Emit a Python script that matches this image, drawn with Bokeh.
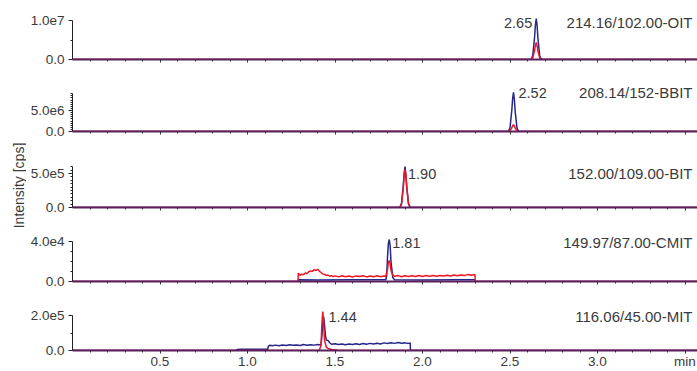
import math
from bokeh.plotting import figure
from bokeh.models import Range1d, FixedTicker, ColumnDataSource
from bokeh.layouts import column, row
from bokeh.embed import file_html
from bokeh.resources import INLINE
from bokeh.core.properties import value

# ---------------- data ----------------
compounds = ["214.16/102.00-OIT", "208.14/152-BBIT", "152.00/109.00-BIT",
             "149.97/87.00-CMIT", "116.06/45.00-MIT"]
retention = [2.65, 2.52, 1.90, 1.81, 1.44]
y_title = "Intensity [cps]"
y_tick_vals = [1.0e7, 5.0e6, 5.0e5, 4.0e4, 2.0e5]
y_tick_labels = ["1.0e7", "5.0e6", "5.0e5", "4.0e4", "2.0e5"]
y_axis_tops = [1.0e7, 9.0e6, 6.0e5, 4.0e4, 2.0e5]
y_minor = [
    [5.0e6],
    [5e5, 1e6, 1.5e6, 2e6, 2.5e6, 3e6, 3.5e6, 4e6, 4.5e6, 5.5e6, 6e6, 6.5e6, 7e6, 7.5e6, 8e6, 8.5e6, 9e6],
    [5e4, 1e5, 1.5e5, 2e5, 2.5e5, 3e5, 3.5e5, 4e5, 4.5e5, 5.5e5, 6e5],
    [1e4, 2e4, 3e4],
    [1e5],
]
x_tick_vals = [0.5, 1.0, 1.5, 2.0, 2.5, 3.0, 3.5]
x_tick_labels = ["0.5", "1.0", "1.5", "2.0", "2.5", "3.0", "min"]
x_minor = [0.1, 0.2, 0.3, 0.4, 0.6, 0.7, 0.8, 0.9, 1.1, 1.2, 1.3, 1.4, 1.6, 1.7, 1.8, 1.9,
           2.1, 2.2, 2.3, 2.4, 2.6, 2.7, 2.8, 2.9, 3.1, 3.2, 3.3, 3.4]

# OIT
oit_t = [0.0, 2.62, 2.63, 2.64, 2.645, 2.65, 2.655, 2.66, 2.67, 2.68, 3.6]
oit_blue = [0, 0, 1.0e6, 5.5e6, 8.8e6, 1.05e7, 8.6e6, 5.2e6, 9.0e5, 0, 0]
oit_red = [0, 0, 4.0e5, 2.2e6, 3.6e6, 4.4e6, 3.5e6, 2.1e6, 3.5e5, 0, 0]
# BBIT
bbit_t = [0.0, 2.49, 2.50, 2.51, 2.515, 2.52, 2.525, 2.53, 2.54, 2.55, 3.6]
bbit_blue = [0, 0, 9.0e5, 4.9e6, 7.8e6, 9.3e6, 7.6e6, 4.6e6, 8.0e5, 0, 0]
bbit_red = [0, 0, 1.5e5, 8.5e5, 1.35e6, 1.6e6, 1.3e6, 8.0e5, 1.4e5, 0, 0]
# BIT
bit_t = [0.0, 1.87, 1.88, 1.89, 1.895, 1.90, 1.905, 1.91, 1.92, 1.93, 3.6]
bit_blue = [0, 0, 6.0e4, 3.2e5, 5.0e5, 6.0e5, 4.9e5, 3.0e5, 5.0e4, 0, 0]
bit_red = [0, 0, 4.0e4, 2.8e5, 4.6e5, 5.6e5, 4.7e5, 3.0e5, 6.0e4, 0, 0]
# CMIT
cmit_blue_t = [0.0, 1.289, 1.29, 1.40, 1.60, 1.79, 1.795, 1.80, 1.805, 1.81, 1.815,
               1.82, 1.83, 1.84, 2.00, 2.20, 2.30, 2.301, 3.6]
cmit_blue = [0, 0, 1.8e3, 1.6e3, 1.8e3, 1.7e3, 5.0e3, 2.4e4, 3.8e4, 4.2e4, 3.6e4,
             2.0e4, 4.0e3, 1.8e3, 1.6e3, 1.8e3, 1.7e3, 0, 0]
cmit_red_t = [0.0, 1.289, 1.29, 1.30, 1.31, 1.32, 1.33, 1.34, 1.35, 1.36, 1.37, 1.38,
              1.39, 1.40, 1.41, 1.42, 1.43, 1.44, 1.45, 1.46, 1.47, 1.48, 1.49, 1.50,
              1.52, 1.54, 1.56, 1.58, 1.60, 1.62, 1.64, 1.66, 1.68, 1.70, 1.72, 1.74,
              1.76, 1.78, 1.79, 1.80, 1.805, 1.81, 1.815, 1.82, 1.83, 1.84, 1.86, 1.88,
              1.90, 1.92, 1.94, 1.96, 1.98, 2.00, 2.02, 2.04, 2.06, 2.08, 2.10, 2.12,
              2.14, 2.16, 2.18, 2.20, 2.22, 2.24, 2.26, 2.28, 2.30, 2.301, 3.6]
cmit_red = [0, 0, 8.3e3, 6.2e3, 7.4e3, 6.8e3, 8.6e3, 8.0e3, 9.8e3, 10.6e3, 9.9e3, 11.8e3,
            11.0e3, 12.2e3, 10.4e3, 9.0e3, 7.6e3, 7.0e3, 6.1e3, 6.4e3, 5.3e3, 5.9e3, 4.9e3, 5.6e3,
            4.6e3, 5.7e3, 4.8e3, 5.5e3, 4.5e3, 5.6e3, 4.9e3, 5.8e3, 4.6e3, 5.4e3, 4.8e3, 5.7e3,
            4.7e3, 5.5e3, 5.0e3, 1.2e4, 1.9e4, 2.1e4, 1.8e4, 1.1e4, 6.5e3, 5.2e3, 5.9e3, 4.8e3,
            5.7e3, 4.9e3, 5.8e3, 5.0e3, 6.0e3, 5.1e3, 5.9e3, 5.2e3, 6.1e3, 5.3e3, 6.0e3, 5.4e3,
            6.3e3, 5.5e3, 6.4e3, 5.8e3, 6.6e3, 5.9e3, 7.1e3, 6.2e3, 6.9e3, 0, 0]
# MIT
mit_blue_t = [0.0, 0.939, 0.94, 0.96, 0.98, 1.00, 1.02, 1.04, 1.06, 1.08, 1.10, 1.115,
              1.12, 1.13, 1.14, 1.16, 1.18, 1.20, 1.22, 1.24, 1.26, 1.28, 1.30, 1.32,
              1.34, 1.36, 1.38, 1.40, 1.42, 1.425, 1.43, 1.435, 1.44, 1.445, 1.45, 1.46,
              1.47, 1.48, 1.50, 1.52, 1.54, 1.56, 1.58, 1.60, 1.62, 1.64, 1.66, 1.68,
              1.70, 1.72, 1.74, 1.76, 1.78, 1.80, 1.82, 1.84, 1.86, 1.88, 1.90, 1.92,
              1.93, 1.931, 3.6]
mit_blue = [0, 0, 6.0e3, 7.0e3, 6.5e3, 7.5e3, 6.8e3, 7.2e3, 6.6e3, 7.4e3, 7.0e3, 7.2e3,
            2.6e4, 3.0e4, 2.7e4, 3.1e4, 2.8e4, 3.2e4, 2.9e4, 3.3e4, 3.0e4, 3.2e4, 2.9e4, 3.4e4,
            3.0e4, 3.3e4, 3.1e4, 3.4e4, 3.2e4, 8.0e4, 1.6e5, 1.95e5, 1.5e5, 9.0e4, 6.0e4, 5.8e4,
            4.5e4, 3.6e4, 3.9e4, 3.4e4, 3.8e4, 3.3e4, 3.7e4, 3.4e4, 3.9e4, 3.5e4, 4.0e4, 3.6e4,
            4.1e4, 3.7e4, 4.2e4, 3.8e4, 4.4e4, 4.0e4, 4.5e4, 4.1e4, 4.6e4, 4.2e4, 4.4e4, 4.1e4,
            4.3e4, 0, 0]
mit_red_t = [0.0, 1.41, 1.42, 1.425, 1.43, 1.435, 1.44, 1.45, 1.46, 1.48, 1.52, 1.56, 3.6]
mit_red = [0, 0, 3.0e4, 1.5e5, 2.25e5, 1.6e5, 6.0e4, 2.0e4, 1.2e4, 6.0e3, 2.0e3, 0, 0]

traces = [
    (oit_t, oit_blue, oit_t, oit_red),
    (bbit_t, bbit_blue, bbit_t, bbit_red),
    (bit_t, bit_blue, bit_t, bit_red),
    (cmit_blue_t, cmit_blue, cmit_red_t, cmit_red),
    (mit_blue_t, mit_blue, mit_red_t, mit_red),
]

# ---------------- layout (page pixel positions) ----------------
# fig_top, fig_bottom, frame_top, baseline, major tick pixel, label pixel
layout = [
    (0, 68, 13, 59, 20, 22),
    (68, 143, 84, 131, 110, 92),
    (143, 219, 163, 207, 173, 173),
    (219, 293, 233, 281, 241, 242),
    (293, 371, 308, 354, 316, 317),
]
peak_align = ["right", "left", "left", "left", "left"]
peak_offset = [-4, 5, 3, 3, 4]

W = 697
H = 371
LABEL_W = 26
LEFT = 72
FONT = "Liberation Sans"
TXT = "#3a3a3a"
BLUE = "#26258a"
RED = "#ee1520"
PURPLE = "#5b1f5e"
X0, X_END = 0.0, (W - LEFT) / 175.0

# narrow strip holding the shared y-axis title
title_fig = figure(width=LABEL_W, height=H, x_range=Range1d(0, LABEL_W),
                   y_range=Range1d(0, H), output_backend="svg", toolbar_location=None,
                   x_axis_type=None, y_axis_type=None, min_border=0)
title_fig.outline_line_color = None
title_fig.grid.visible = False
title_fig.text(x=[18], y=[H - 185], text=[y_title], angle=math.pi / 2,
               text_align="center", text_baseline="middle",
               text_font=value(FONT), text_font_size="14px", text_color=TXT)

x_range = Range1d(X0, X_END)
figs = []
for i in range(5):
    ftop, fbot, frtop, base, tickpx, labpx = layout[i]
    ppu = (base - tickpx) / y_tick_vals[i]
    y_top = (base - frtop) / ppu
    last = (i == 4)
    p = figure(width=W - LABEL_W, height=fbot - ftop, x_range=x_range,
               y_range=Range1d(0, y_top), output_backend="svg",
               toolbar_location=None, min_border_left=LEFT - LABEL_W, min_border_right=0,
               min_border_top=frtop - ftop, min_border_bottom=fbot - base)
    p.outline_line_color = None
    p.grid.visible = False
    p.background_fill_color = "white"
    p.border_fill_color = "white"

    bt, bv, rt, rv = traces[i]
    p.line(bt, bv, line_color=BLUE, line_width=1.5)
    p.line(rt, rv, line_color=RED, line_width=1.5)

    # x axis
    xa = p.xaxis[0]
    xa.ticker = FixedTicker(ticks=x_tick_vals, minor_ticks=x_minor)
    xa.axis_line_color = PURPLE
    xa.axis_line_width = 2
    xa.major_tick_line_color = "#333333"
    xa.minor_tick_line_color = "#333333"
    xa.major_tick_out = 3
    xa.major_tick_in = 0
    xa.minor_tick_out = 2
    xa.minor_tick_in = 0
    xa.major_label_standoff = 0
    if last:
        xa.major_label_overrides = {v: s for v, s in zip(x_tick_vals, x_tick_labels)}
        xa.major_label_text_font = FONT
        xa.major_label_text_font_size = "13.5px"
        xa.major_label_text_line_height = 1.0
        xa.major_label_text_color = TXT
    else:
        xa.major_label_overrides = {v: "" for v in x_tick_vals}
        xa.major_label_text_font_size = "1px"

    # y axis
    ya = p.yaxis[0]
    ya.ticker = FixedTicker(ticks=[0, y_tick_vals[i]], minor_ticks=y_minor[i])
    ya.bounds = (0, y_axis_tops[i])
    ya.major_label_overrides = {0: "0.0", y_tick_vals[i]: y_tick_labels[i]}
    ya.axis_line_color = "#222222"
    ya.major_tick_line_color = "#222222"
    ya.minor_tick_line_color = "#222222"
    ya.major_tick_out = 4
    ya.major_tick_in = 0
    ya.minor_tick_out = 2
    ya.minor_tick_in = 0
    ya.major_label_text_font = FONT
    ya.major_label_text_font_size = "13.5px"
    ya.major_label_text_color = TXT
    ya.major_label_standoff = 4

    ylab = (base - labpx) / ppu
    src = ColumnDataSource(dict(x=[retention[i]], y=[ylab], t=["%.2f" % retention[i]]))
    p.text(x="x", y="y", text="t", source=src, text_align=peak_align[i],
           text_baseline="middle", x_offset=peak_offset[i],
           text_font=value(FONT), text_font_size="14.5px", text_color=TXT)
    src2 = ColumnDataSource(dict(x=[X_END], y=[ylab], t=[compounds[i]]))
    p.text(x="x", y="y", text="t", source=src2, text_align="right",
           text_baseline="middle", x_offset=-5,
           text_font=value(FONT), text_font_size="15px", text_color=TXT)
    figs.append(p)

page = row(title_fig, column(*figs, spacing=0), spacing=0)
open("out.html", "w").write(file_html(page, INLINE))
